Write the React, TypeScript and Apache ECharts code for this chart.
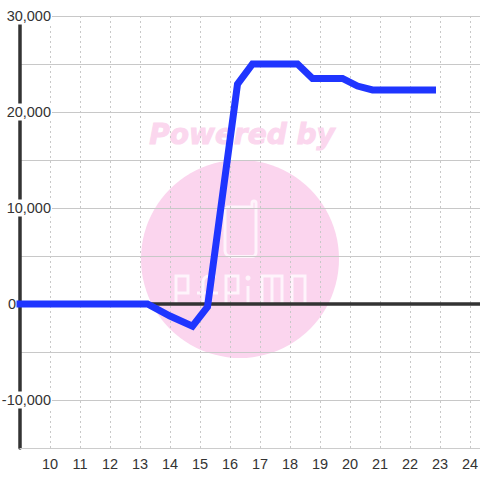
import React, { useEffect, useRef } from "react";
import * as echarts from "echarts";

const hours = [9, 13.25, 14, 14.75, 15.25, 16.25, 16.75, 18.25, 18.75, 19.75, 20.25, 20.75, 22.75];
const values = [0, 0, -1250, -2300, -300, 22900, 25000, 25000, 23500, 23500, 22700, 22300, 22300];
const yLabels = [30000, 20000, 10000, 0, -10000];
const xLabels = [10, 11, 12, 13, 14, 15, 16, 17, 18, 19, 20, 21, 22, 23, 24];

const logoPath =
  "M226 207 H252 V203 A2 2 0 0 1 256 203 V252 A4 4 0 0 1 252 256.5 H231 A6 6 0 0 1 225 251 V207 " +
  "M176 304 V276 H188 V293 H176 " +
  "M203 304 V282 A6 6 0 0 1 209 276 H216 M197 293 H218 " +
  "M226 304 V276 H238 V293 H226 " +
  "M248 286 V304 " +
  "M262 304 V276 H282 V304 M272 276 V304 " +
  "M292 304 V276 H305 V304 H292";

export default function App() {
  const ref = useRef<HTMLDivElement>(null);
  useEffect(() => {
    document.body.style.margin = "0";
    if (!ref.current) return;
    echarts.graphic.registerShape("logo", echarts.graphic.extendPath(logoPath, {}));
    const chart = echarts.init(ref.current, undefined, { renderer: "svg" });
    const pairs = hours.map((h, i) => [h, values[i]]);
    chart.setOption({
      animation: false,
      backgroundColor: "#ffffff",
      textStyle: { fontFamily: "Liberation Sans" },
      grid: { left: 20, right: 0, top: 16, bottom: 32, outerBoundsMode: "none", containLabel: false },
      graphic: [
        { type: "circle", z: -1, shape: { cx: 240, cy: 259, r: 99 }, style: { fill: "#fbd5ee" } },
        {
          type: "logo",
          z: -1,
          x: 0,
          y: 0,
          style: { fill: "none", stroke: "#fef4fb", lineWidth: 3 },
        },
        { type: "circle", z: -1, shape: { cx: 248, cy: 278, r: 2.5 }, style: { fill: "#fef4fb" } },
        {
          type: "text",
          z: -1,
          x: 242,
          y: 134,
          style: {
            text: "Powered by",
            fill: "#fbd7ee",
            stroke: "#fbd7ee",
            lineWidth: 1,
            font: "italic bold 28px 'DejaVu Sans'",
            align: "center",
            verticalAlign: "middle",
          },
        },
      ],
      xAxis: [
        {
          type: "value",
          position: "bottom",
          min: 9,
          max: 9 + 460 / 30,
          interval: 1,
          axisLine: { onZero: false, show: true, lineStyle: { color: "#cccccc", width: 1 } },
          axisTick: { show: false },
          showMinLabel: false,
          showMaxLabel: false,
          splitLine: { show: true, lineStyle: { color: "#c8c8c8", type: [2, 3], width: 1 } },
          axisLabel: {
            color: "#333333",
            fontSize: 14.5,
            margin: 8,
            formatter: (v: number) => (xLabels.includes(v) ? String(v) : ""),
          },
        },
        {
          type: "value",
          position: "top",
          min: 9,
          max: 9 + 460 / 30,
          interval: 1,
          axisLine: { show: true, onZero: true, lineStyle: { color: "#333333", width: 3.5 } },
          axisTick: { show: false },
          axisLabel: { show: false },
          splitLine: { show: false },
        },
      ],
      yAxis: {
        type: "value",
        min: -15000,
        max: 30000,
        interval: 5000,
        axisLine: { show: true, onZero: false, lineStyle: { color: "#333333", width: 3.5 } },
        axisTick: { show: false },
        splitLine: { show: true, lineStyle: { color: "#c8c8c8", width: 1 } },
        axisLabel: {
          color: "#333333",
          fontSize: 14.5,
          margin: -32,
          formatter: (v: number) => {
            if (!yLabels.includes(v)) return "";
            if (v === 0) return "{z|0}";
            return "{b|" + v.toLocaleString("en-US") + "}";
          },
          rich: {
            b: { backgroundColor: "#ffffff", color: "#333333", fontSize: 14.5, padding: [1, 1, 1, 1] },
            z: { color: "#333333", fontSize: 14.5, padding: [0, 36, 0, 0] },
          },
        },
      },
      series: [
        {
          type: "line",
          data: pairs,
          xAxisIndex: 0,
          yAxisIndex: 0,
          showSymbol: false,
          symbol: "none",
          clip: false,
          z: 5,
          lineStyle: { color: "#1f35ff", width: 7, cap: "square", join: "miter" },
        },
      ],
    });
    return () => chart.dispose();
  }, []);
  return <div ref={ref} style={{ width: 480, height: 480 }} />;
}
